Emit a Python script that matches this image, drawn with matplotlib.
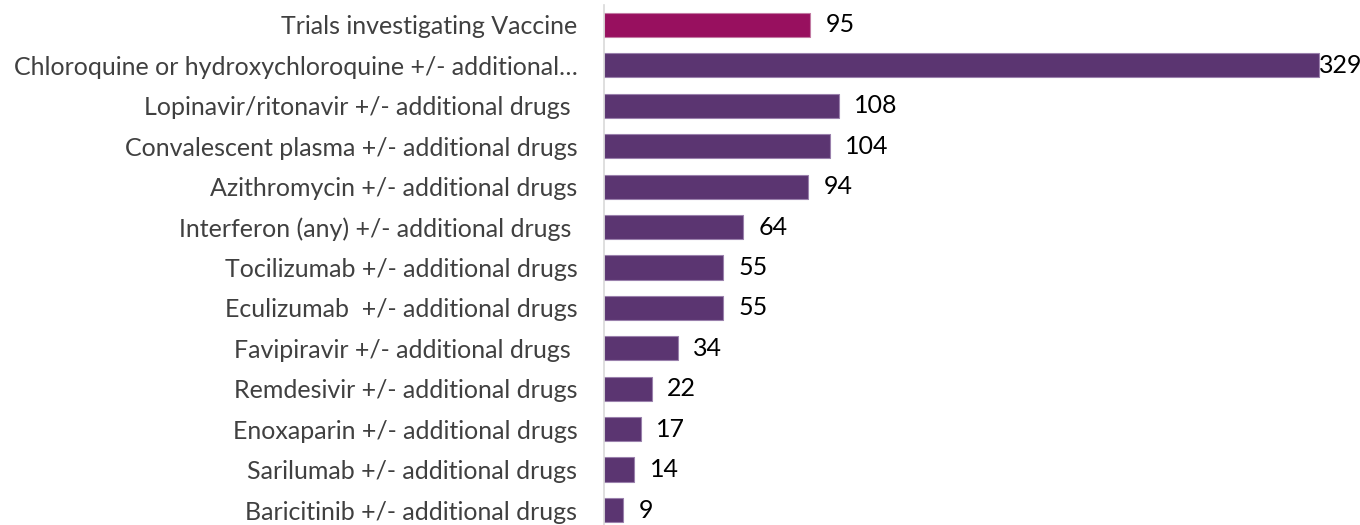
import matplotlib
matplotlib.use("Agg")
import matplotlib.pyplot as plt

categories = [
    "Trials investigating Vaccine",
    "Chloroquine or hydroxychloroquine +/- additional\u2026",
    "Lopinavir/ritonavir +/- additional drugs ",
    "Convalescent plasma +/- additional drugs",
    "Azithromycin +/- additional drugs",
    "Interferon (any) +/- additional drugs ",
    "Tocilizumab +/- additional drugs",
    "Eculizumab  +/- additional drugs",
    "Favipiravir +/- additional drugs ",
    "Remdesivir +/- additional drugs",
    "Enoxaparin +/- additional drugs",
    "Sarilumab +/- additional drugs",
    "Baricitinib +/- additional drugs",
]
values = [95, 329, 108, 104, 94, 64, 55, 55, 34, 22, 17, 14, 9]
bar_colors = ["#98105F"] + ["#5B3571"] * 12
edge_colors = ["#C27AA3"] + ["#9A80AC"] * 12

plt.rcParams["font.family"] = ["Lato", "DejaVu Sans"]

fig = plt.figure(figsize=(13.6, 5.25), dpi=100)
ax = fig.add_axes([0.444, 0.0, 0.5435, 0.991])

y = list(range(len(values)))
ax.barh(y, values, height=0.6, color=bar_colors, edgecolor=edge_colors, linewidth=0.8)
ax.set_xlim(0, 340)
ax.set_ylim(12.37, -0.5)

for yi, v in zip(y, values):
    off = 0 if v > 300 else 11
    ax.annotate(str(v), (v, yi), xytext=(off, 0), textcoords="offset points",
                va="center", ha="left", fontsize=18, color="black")

ax.set_yticks(y)
ax.set_yticklabels(categories, fontsize=18, color="#404040")
ax.tick_params(axis="y", length=0, pad=19)
ax.set_xticks([])
for s in ["top", "right", "bottom"]:
    ax.spines[s].set_visible(False)
ax.spines["left"].set_color("#D9D9D9")
ax.spines["left"].set_linewidth(1.2)

fig.savefig("out.png", dpi=100)
